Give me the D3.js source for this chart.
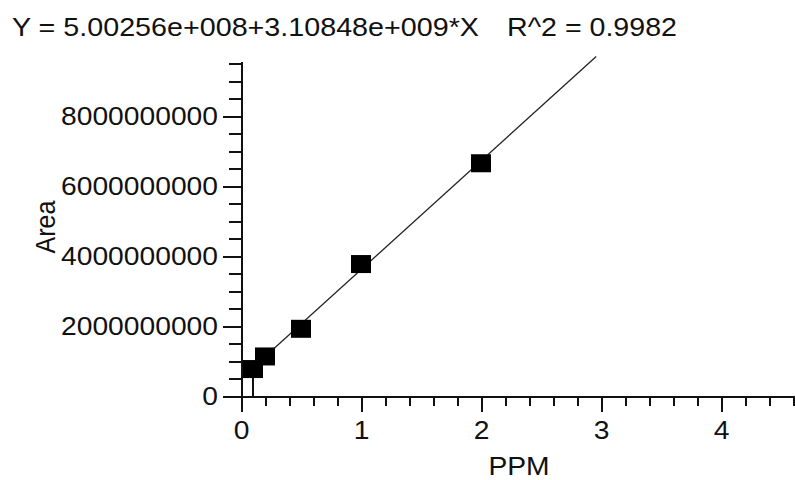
<!DOCTYPE html>
<html><head><meta charset="utf-8">
<script src="https://cdn.jsdelivr.net/npm/d3@7"></script>
<style>
html,body{margin:0;padding:0;background:#fff;}
svg{display:block;}
text{font-family:"Liberation Sans",Arial,sans-serif;fill:#111;}
</style></head><body>
<svg id="chart" width="795" height="480"></svg>
<script>
// Calibration standards
const ppm  = [0.1, 0.2, 0.5, 1, 2];
const area = [7.7e8, 1.13e9, 1.92e9, 3.77e9, 6.65e9];

// Linear fit
const intercept = 5.00256e8;
const slope = 3.10848e9;
const rSquared = 0.9982;
const fitRange = [0.1, 2.96];

// Axes
const xMajorTicks = [0, 1, 2, 3, 4];
const xTickLabels = ["0", "1", "2", "3", "4"];
const yMajorTicks = [0, 2e9, 4e9, 6e9, 8e9];
const yTickLabels = ["0", "2000000000", "4000000000", "6000000000", "8000000000"];
const xMinorTicks = d3.range(0, 24).map(i => i * 0.2);
const yMinorTicks = d3.range(0, 20).map(i => i * 5e8);
const xTitle = "PPM";
const yTitle = "Area";

const SX = 1.13;        // horizontal stretch of the lettering
const FONT = 25;

const svg = d3.select("#chart");

const x = d3.scaleLinear().domain([0, 4.65]).range([241, 799]);
const y = d3.scaleLinear().domain([0, 9.55e9]).range([396, 61.75]);

function sci(v) {
  const [m, e] = v.toExponential(5).split("e");
  const sign = e[0] === "-" ? "-" : "+";
  return m + "e" + sign + String(Math.abs(+e)).padStart(3, "0");
}

const axisStyle = g => {
  g.selectAll("path, line").attr("stroke", "#111").attr("stroke-width", 2)
    .attr("shape-rendering", "crispEdges");
};

// x axis
svg.append("g").attr("transform", `translate(0,${y(0)})`)
  .call(d3.axisBottom(x).tickValues(xMinorTicks).tickSize(10).tickSizeOuter(0).tickFormat(""))
  .call(axisStyle);
const gx = svg.append("g").attr("transform", `translate(0,${y(0)})`)
  .call(d3.axisBottom(x).tickValues(xMajorTicks).tickSize(16).tickSizeOuter(0)
    .tickFormat((d, i) => xTickLabels[i]))
  .call(axisStyle);
gx.selectAll("text").attr("y", 43).attr("dy", 0)
  .attr("transform", `scale(${SX},1)`)
  .style("font-size", FONT + "px").attr("fill", "#111");

// y axis
svg.append("g").attr("transform", `translate(${x(0)},0)`)
  .call(d3.axisLeft(y).tickValues(yMinorTicks).tickSize(12).tickSizeOuter(0).tickFormat(""))
  .call(axisStyle);
const gy = svg.append("g").attr("transform", `translate(${x(0)},0)`)
  .call(d3.axisLeft(y).tickValues(yMajorTicks).tickSize(18).tickSizeOuter(0)
    .tickFormat((d, i) => yTickLabels[i]))
  .call(axisStyle);
gy.selectAll("text").attr("x", -23 / SX).attr("dy", "0.32em")
  .attr("transform", `scale(${SX},1)`)
  .style("font-size", FONT + "px").attr("fill", "#111");

// fitted line
const line = d3.line().x(d => x(d)).y(d => y(intercept + slope * d));
svg.append("path").datum(fitRange).attr("d", line)
  .attr("fill", "none").attr("stroke", "#222").attr("stroke-width", 1.3);

// drop line for the lowest standard
svg.append("line")
  .attr("x1", x(ppm[0])).attr("x2", x(ppm[0]))
  .attr("y1", y(0)).attr("y2", y(area[0]))
  .attr("stroke", "#111").attr("stroke-width", 2);

// standards
svg.append("g").selectAll("rect").data(ppm).join("rect")
  .attr("x", d => x(d) - 10)
  .attr("y", (d, i) => y(area[i]) - 9)
  .attr("width", 20).attr("height", 18)
  .attr("fill", "#000");

// text helper: optional target width sets the horizontal stretch
const addText = (str, tx, ty, anchor, rot, width) => {
  const t = svg.append("text")
    .attr("text-anchor", anchor)
    .style("font-size", FONT + "px")
    .text(str);
  let sx = SX;
  if (width) sx = width / t.node().getComputedTextLength();
  t.attr("transform", `translate(${tx},${ty}) scale(${sx},1)` + (rot ? ` rotate(${rot})` : ""));
};

// equation header
addText(`Y = ${sci(intercept)}+${sci(slope)}*X`, 12, 36, "start", 0, 467);
addText(`R^2 = ${rSquared.toFixed(4)}`, 507, 36, "start", 0, 170);

// axis titles
addText(xTitle, 519, 475, "middle");
addText(yTitle, 55, 227, "middle", -90);
</script>
</body></html>
